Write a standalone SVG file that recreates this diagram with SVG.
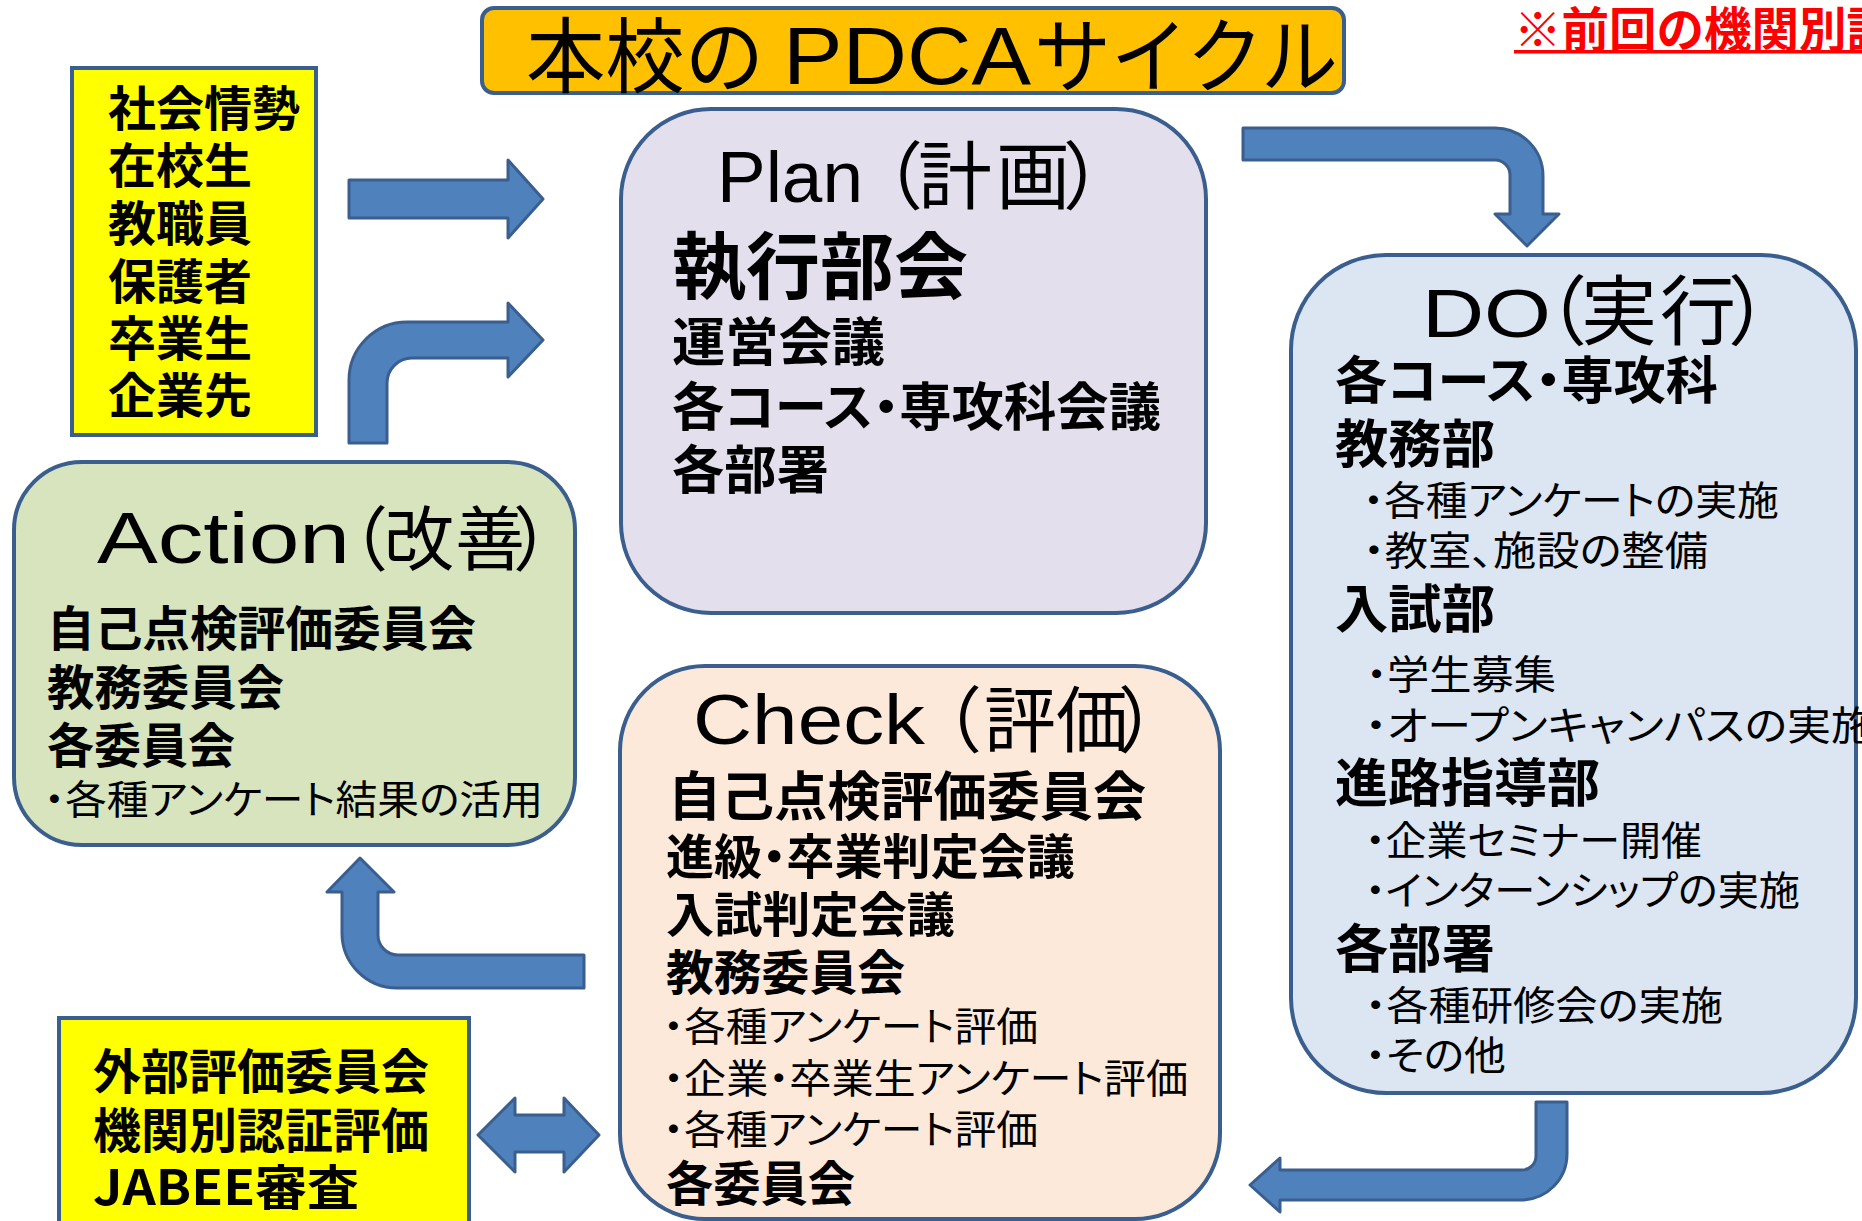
<svg xmlns="http://www.w3.org/2000/svg" width="1862" height="1221" viewBox="0 0 1862 1221">
<defs>
<style>
text{font-family:"Noto Sans CJK JP","Noto Sans",sans-serif;fill:#000;}
.lat{font-family:"Liberation Sans",Arial,sans-serif;}
.b{font-weight:bold;}
.r{font-weight:normal;}
.pal{font-feature-settings:"palt";}
.box{stroke:#3A5F8F;stroke-width:4;}
.arr{fill:#4F81BD;stroke:#3A5F8F;stroke-width:3;stroke-linejoin:round;}
</style>
</defs>
<rect width="1862" height="1221" fill="#FFFFFF"/>

<g id="title">
<rect class="box" x="482" y="8" width="862" height="85" rx="12" fill="#FFC000"/>
<text class="r" x="526" y="86" font-size="82" textLength="238" lengthAdjust="spacingAndGlyphs">本校の</text>
<text class="r lat" x="783" y="84" font-size="81" textLength="248" lengthAdjust="spacingAndGlyphs">PDCA</text>
<text class="r" x="1034" y="86" font-size="82" textLength="304" lengthAdjust="spacingAndGlyphs">サイクル</text>
</g>

<g id="note">
<text class="b" x="1514" y="47" font-size="47.5" style="fill:#FF0000">※前回の機関別認</text>
<rect x="1514" y="50" width="348" height="3.5" fill="#FF0000"/>
</g>

<g id="stakeholders">
<rect class="box" x="72" y="68" width="244" height="367" fill="#FFFF00"/>
<text class="b" x="108" y="126" font-size="48">社会情勢</text>
<text class="b" x="108" y="183" font-size="48">在校生</text>
<text class="b" x="108" y="241" font-size="48">教職員</text>
<text class="b" x="108" y="299" font-size="48">保護者</text>
<text class="b" x="108" y="356" font-size="48">卒業生</text>
<text class="b" x="108" y="413" font-size="48">企業先</text>
</g>

<g id="plan">
<rect class="box" x="621" y="109" width="585" height="504" rx="90" fill="#E4DFEC"/>
<text class="r lat" x="717" y="202" font-size="72" textLength="146" lengthAdjust="spacingAndGlyphs">Plan</text>
<text class="r" y="203" font-size="74"><tspan x="849">（</tspan><tspan x="918">計</tspan><tspan x="996">画</tspan><tspan x="1063">）</tspan></text>
<text class="b" x="672" y="293" font-size="73" textLength="296" lengthAdjust="spacingAndGlyphs">執行部会</text>
<text class="b" x="672" y="361" font-size="52" textLength="213" lengthAdjust="spacingAndGlyphs">運営会議</text>
<text class="b pal" x="672" y="426" font-size="52" textLength="489" lengthAdjust="spacingAndGlyphs">各コース・専攻科会議</text>
<text class="b" x="672" y="489" font-size="52" textLength="157" lengthAdjust="spacingAndGlyphs">各部署</text>
</g>

<g id="do">
<rect class="box" x="1291" y="255" width="565" height="838" rx="95" fill="#DCE6F2"/>
<text class="r lat" x="1422" y="337" font-size="68" textLength="129" lengthAdjust="spacingAndGlyphs">DO</text>
<text class="r" y="339" font-size="76"><tspan x="1511">（</tspan><tspan x="1581">実</tspan><tspan x="1660">行</tspan><tspan x="1728">）</tspan></text>
<text class="b pal" x="1335" y="399" font-size="51" textLength="383" lengthAdjust="spacingAndGlyphs">各コース・専攻科</text>
<text class="b" x="1335" y="463" font-size="52" textLength="160" lengthAdjust="spacingAndGlyphs">教務部</text>
<text class="r pal" x="1363" y="515" font-size="40" textLength="416" lengthAdjust="spacingAndGlyphs">・各種アンケートの実施</text>
<text class="r pal" x="1363" y="565" font-size="40" textLength="345" lengthAdjust="spacingAndGlyphs">・教室、施設の整備</text>
<text class="b" x="1335" y="628" font-size="52" textLength="160" lengthAdjust="spacingAndGlyphs">入試部</text>
<text class="r pal" x="1366" y="689" font-size="40" textLength="190" lengthAdjust="spacingAndGlyphs">・学生募集</text>
<text class="r pal" x="1365" y="740" font-size="40" textLength="510" lengthAdjust="spacingAndGlyphs">・オープンキャンパスの実施</text>
<text class="b" x="1335" y="802" font-size="52" textLength="265" lengthAdjust="spacingAndGlyphs">進路指導部</text>
<text class="r pal" x="1365" y="855" font-size="40" textLength="337" lengthAdjust="spacingAndGlyphs">・企業セミナー開催</text>
<text class="r pal" x="1365" y="905" font-size="40" textLength="435" lengthAdjust="spacingAndGlyphs">・インターンシップの実施</text>
<text class="b" x="1335" y="968" font-size="52" textLength="160" lengthAdjust="spacingAndGlyphs">各部署</text>
<text class="r pal" x="1365" y="1020" font-size="40" textLength="358" lengthAdjust="spacingAndGlyphs">・各種研修会の実施</text>
<text class="r pal" x="1365" y="1070" font-size="40" textLength="141" lengthAdjust="spacingAndGlyphs">・その他</text>
</g>

<g id="action">
<rect class="box" x="14" y="462" width="561" height="383" rx="68" fill="#D7E4BD"/>
<text class="r lat" x="97" y="563" font-size="72" textLength="253" lengthAdjust="spacingAndGlyphs">Action</text>
<text class="r" y="565" font-size="70"><tspan x="318">（</tspan><tspan x="384">改</tspan><tspan x="455">善</tspan><tspan x="513">）</tspan></text>
<text class="b" x="47" y="646" font-size="48" textLength="429" lengthAdjust="spacingAndGlyphs">自己点検評価委員会</text>
<text class="b" x="47" y="705" font-size="48" textLength="237" lengthAdjust="spacingAndGlyphs">教務委員会</text>
<text class="b" x="47" y="763" font-size="48" textLength="188" lengthAdjust="spacingAndGlyphs">各委員会</text>
<text class="r pal" x="44" y="814" font-size="40" textLength="499" lengthAdjust="spacingAndGlyphs">・各種アンケート結果の活用</text>
</g>

<g id="check">
<rect class="box" x="620" y="666" width="600" height="553" rx="85" fill="#FDE9D9"/>
<text class="r lat" x="693" y="744" font-size="70" textLength="232" lengthAdjust="spacingAndGlyphs">Check</text>
<text class="r" y="746" font-size="72"><tspan x="910">（</tspan><tspan x="984">評</tspan><tspan x="1056">価</tspan><tspan x="1118">）</tspan></text>
<text class="b" x="668" y="816" font-size="53" textLength="478" lengthAdjust="spacingAndGlyphs">自己点検評価委員会</text>
<text class="b pal" x="666" y="874" font-size="48" textLength="409" lengthAdjust="spacingAndGlyphs">進級・卒業判定会議</text>
<text class="b" x="666" y="932" font-size="48" textLength="289" lengthAdjust="spacingAndGlyphs">入試判定会議</text>
<text class="b" x="666" y="990" font-size="48" textLength="239" lengthAdjust="spacingAndGlyphs">教務委員会</text>
<text class="r pal" x="663" y="1041" font-size="40" textLength="375" lengthAdjust="spacingAndGlyphs">・各種アンケート評価</text>
<text class="r pal" x="663" y="1093" font-size="40" textLength="525" lengthAdjust="spacingAndGlyphs">・企業・卒業生アンケート評価</text>
<text class="r pal" x="663" y="1144" font-size="40" textLength="375" lengthAdjust="spacingAndGlyphs">・各種アンケート評価</text>
<text class="b" x="666" y="1201" font-size="48" textLength="189" lengthAdjust="spacingAndGlyphs">各委員会</text>
</g>

<g id="external">
<rect class="box" x="59" y="1018" width="410" height="240" fill="#FFFF00"/>
<text class="b" x="93" y="1089" font-size="48" textLength="336" lengthAdjust="spacingAndGlyphs">外部評価委員会</text>
<text class="b" x="93" y="1148" font-size="48" textLength="336" lengthAdjust="spacingAndGlyphs">機関別認証評価</text>
<text class="b" x="93" y="1205" font-size="48" textLength="266" lengthAdjust="spacingAndGlyphs">JABEE審査</text>
</g>

<g id="connectors">
<path class="arr" d="M349,180 H508 V160 L543,199 L508,238 V218 H349 Z"/>
<path class="arr" d="M349,443 V380 A58,58 0 0 1 407,322 H508 V303 L543,340 L508,377 V358 H412 A25,25 0 0 0 387,383 V443 Z"/>
<path class="arr" d="M1243,128 H1495 A48,48 0 0 1 1543,176 V214 H1559 L1527,246 L1495,214 H1510 V175 A15,15 0 0 0 1495,160 H1243 Z"/>
<path class="arr" d="M1536,1102 H1567 V1154 A46,46 0 0 1 1521,1200 H1280 V1212 L1250,1185 L1280,1158 V1170 H1522 A14,14 0 0 0 1536,1156 Z"/>
<path class="arr" d="M584,955 V988 H397 A55,55 0 0 1 342,933 V892 H327 L360,858 L394,892 H378 V935 A20,20 0 0 0 398,955 Z"/>
<path class="arr" d="M478,1135 L515,1098 V1115 H564 V1098 L599,1135 L564,1172 V1152 H515 V1172 Z"/>
</g>
</svg>
